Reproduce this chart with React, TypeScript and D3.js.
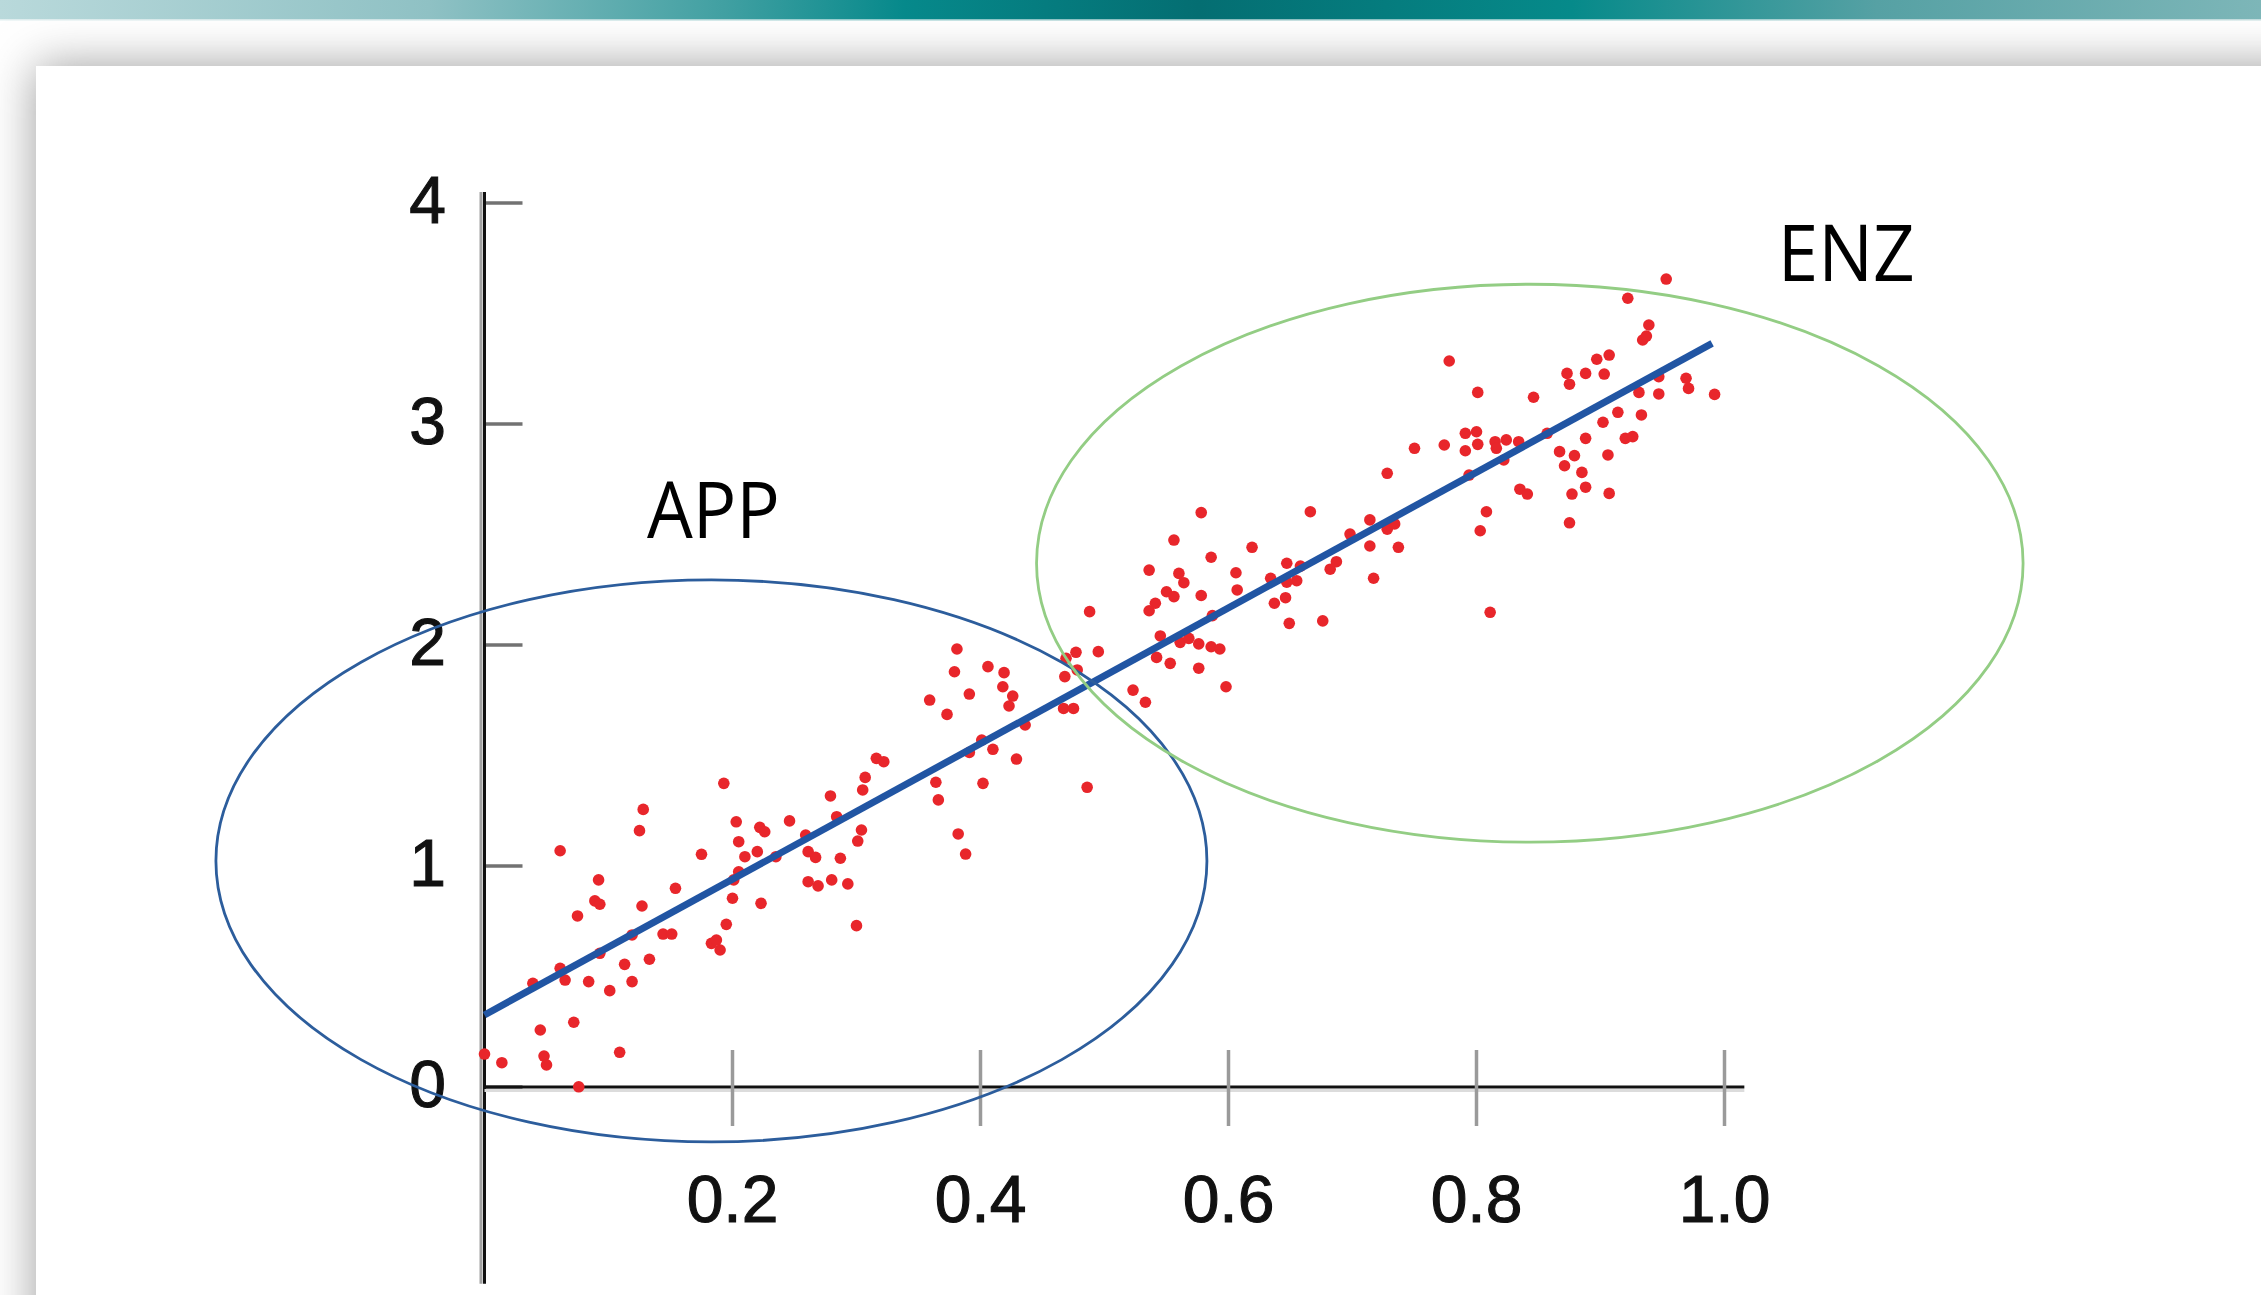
import React from "react";
import { scaleLinear, line } from "d3";

const width = 2261;
const height = 1295;

// scatter points (x, y)
const points: [number, number][] = [
  [0.0, 0.149], [0.014, 0.11], [0.045, 0.258], [0.048, 0.14], [0.05, 0.1], [0.072, 0.293],
  [0.076, 0.001], [0.109, 0.157], [0.039, 0.469], [0.061, 0.537], [0.065, 0.484], [0.084, 0.477],
  [0.093, 0.605], [0.101, 0.436], [0.113, 0.555], [0.119, 0.477], [0.133, 0.578], [0.119, 0.688],
  [0.061, 1.069], [0.075, 0.774], [0.089, 0.842], [0.093, 0.827], [0.092, 0.937], [0.127, 0.819],
  [0.125, 1.16], [0.128, 1.256], [0.144, 0.692], [0.151, 0.692], [0.154, 0.899], [0.175, 1.053],
  [0.183, 0.65], [0.187, 0.665], [0.19, 0.62], [0.195, 0.736], [0.2, 0.854], [0.201, 0.937],
  [0.205, 0.974], [0.193, 1.374], [0.203, 1.2], [0.205, 1.11], [0.21, 1.042], [0.22, 1.065],
  [0.222, 1.175], [0.226, 1.155], [0.223, 0.831], [0.235, 1.042], [0.246, 1.204], [0.259, 1.14],
  [0.261, 1.065], [0.267, 1.039], [0.261, 0.929], [0.269, 0.91], [0.28, 0.937], [0.293, 0.919],
  [0.279, 1.317], [0.284, 1.223], [0.287, 1.035], [0.3, 0.73], [0.301, 1.113], [0.304, 1.163],
  [0.305, 1.344], [0.307, 1.401], [0.316, 1.487], [0.322, 1.472], [0.359, 1.751], [0.373, 1.686],
  [0.379, 1.879], [0.381, 1.982], [0.391, 1.778], [0.364, 1.379], [0.366, 1.299], [0.382, 1.145],
  [0.388, 1.054], [0.391, 1.514], [0.402, 1.374], [0.401, 1.57], [0.406, 1.902],
  [0.419, 1.875], [0.418, 1.811], [0.426, 1.769], [0.423, 1.724], [0.436, 1.638], [0.41, 1.528],
  [0.429, 1.484], [0.486, 1.356], [0.467, 1.713], [0.475, 1.713], [0.468, 1.857], [0.469, 1.94],
  [0.477, 1.967], [0.478, 1.887], [0.495, 1.97], [0.488, 2.151], [0.523, 1.796], [0.533, 1.741],
  [0.536, 2.339], [0.556, 2.475], [0.578, 2.599], [0.586, 2.397], [0.619, 2.442], [0.666, 2.603],
  [0.728, 2.777], [0.75, 2.89], [0.56, 2.324], [0.564, 2.282], [0.55, 2.241], [0.556, 2.219],
  [0.541, 2.189], [0.536, 2.155], [0.578, 2.224], [0.606, 2.327], [0.607, 2.249], [0.587, 2.133],
  [0.545, 2.041], [0.542, 1.944], [0.553, 1.917], [0.561, 2.012], [0.568, 2.03], [0.576, 2.005],
  [0.586, 1.992], [0.593, 1.982], [0.576, 1.895], [0.598, 1.811], [0.634, 2.302], [0.647, 2.37],
  [0.658, 2.357], [0.655, 2.291], [0.647, 2.284], [0.637, 2.189], [0.646, 2.214], [0.649, 2.098],
  [0.676, 2.109], [0.682, 2.343], [0.687, 2.377], [0.698, 2.502], [0.714, 2.566], [0.714, 2.448],
  [0.717, 2.302], [0.728, 2.524], [0.734, 2.548], [0.737, 2.442],
  [0.778, 3.285], [0.774, 2.905], [0.801, 3.143], [0.791, 2.958], [0.8, 2.965], [0.791, 2.879],
  [0.801, 2.908], [0.815, 2.92], [0.816, 2.89], [0.824, 2.928], [0.834, 2.92], [0.822, 2.837],
  [0.794, 2.769], [0.808, 2.603], [0.803, 2.517], [0.811, 2.148], [0.835, 2.705], [0.841, 2.683],
  [0.846, 3.121], [0.857, 2.958], [0.873, 3.229], [0.875, 3.18], [0.888, 3.229], [0.897, 3.293],
  [0.907, 3.312], [0.903, 3.226], [0.867, 2.875], [0.879, 2.857], [0.871, 2.811], [0.888, 2.935],
  [0.885, 2.781], [0.888, 2.714], [0.877, 2.683], [0.906, 2.86], [0.907, 2.686], [0.875, 2.553],
  [0.902, 3.008], [0.914, 3.053], [0.92, 2.935], [0.926, 2.943], [0.933, 3.041], [0.931, 3.143],
  [0.947, 3.136], [0.947, 3.214], [0.934, 3.38], [0.937, 3.398], [0.939, 3.448], [0.922, 3.569],
  [0.953, 3.656], [0.969, 3.207], [0.971, 3.161], [0.992, 3.134],
];

const xTicks = [0.2, 0.4, 0.6, 0.8, 1.0];
const xTickLabels = ["0.2", "0.4", "0.6", "0.8", "1.0"];
const yTicks = [0, 1, 2, 3, 4];
const yTickLabels = ["0", "1", "2", "3", "4"];

// fitted line end points
const fitLine: [number, number][] = [[0, 0.326], [0.99, 3.365]];

// the two groups circled on the plot
const groupNames = ["APP", "ENZ"];
const groupCenters = [[0.183, 1.023], [0.843, 2.37]];
const groupRadii = [[0.3996, 1.2715], [0.3978, 1.2624]];
const groupLabelAt = [[0.131, 2.484], [1.043, 3.647]];
const groupLabelWidth = [133, 137];
const groupColors = ["#2c5d9c", "#93cd84"];

// bar gradient along the top of the slide
const barStops = [
  [0, "#b9d9db"], [0.19, "#8fc1c4"], [0.32, "#41a0a2"], [0.4, "#06898b"],
  [0.53, "#046e72"], [0.695, "#068a8a"], [0.83, "#56a1a4"], [1, "#7db6b8"],
];

export default function App() {
  const xScale = scaleLinear().domain([0, 1]).range([484.5, 1724.5]);
  const yScale = scaleLinear().domain([0, 4]).range([1087, 203]);

  const fitPath = line<[number, number]>()
    .x((d) => xScale(d[0]))
    .y((d) => yScale(d[1]))(fitLine);

  const axisX = xScale(0);
  const axisY = yScale(0);

  return (
    <div style={{ position: "fixed", left: 0, top: 0, width, height, overflow: "hidden", background: "#fff" }}>
      <svg width={width} height={height}>
        <defs>
          <linearGradient id="bar" x1="0" x2="1" y1="0" y2="0">
            {barStops.map((s, i) => (
              <stop key={i} offset={s[0] as number} stopColor={s[1] as string} />
            ))}
          </linearGradient>
          <filter id="shadow" x="-20%" y="-20%" width="140%" height="140%">
            <feGaussianBlur stdDeviation="24" />
          </filter>
        </defs>

        {/* slide card with its shadow */}
        <rect x={36} y={66} width={2320} height={1400} fill="#9c9c9c" filter="url(#shadow)" />
        <rect x={0} y={0} width={width} height={19} fill="url(#bar)" />
        <rect x={0} y={19} width={width} height={1.5} fill="url(#bar)" opacity={0.45} />
        <rect x={36} y={66} width={2320} height={1400} fill="#fff" />

        {/* y axis */}
        <line x1={axisX - 3.5} x2={axisX - 3.5} y1={yScale(4.05)} y2={yScale(-0.89)} stroke="#a2a2a2" strokeWidth={3} />
        <line x1={axisX} x2={axisX} y1={yScale(4.05)} y2={yScale(-0.89)} stroke="#111" strokeWidth={3} />
        {yTicks.map((t, i) => (
          <g key={i} transform={`translate(0,${yScale(t)})`}>
            <line x1={axisX + 1.5} x2={axisX + 38} stroke="#727272" strokeWidth={3.5} />
            <text
              x={446}
              y={20}
              textAnchor="end"
              fontFamily="'Liberation Sans', Arial, sans-serif"
              fontSize={66}
              fill="#111"
              stroke="#111"
              strokeWidth={1.1}
            >
              {yTickLabels[i]}
            </text>
          </g>
        ))}

        {/* x axis */}
        <line x1={axisX} x2={xScale(1.016)} y1={axisY + 3.5} y2={axisY + 3.5} stroke="#dcdcdc" strokeWidth={3} />
        <line x1={axisX} x2={xScale(1.016)} y1={axisY} y2={axisY} stroke="#111" strokeWidth={3} />
        {xTicks.map((t, i) => (
          <g key={i} transform={`translate(${xScale(t)},0)`}>
            <line y1={axisY - 37} y2={axisY + 39} stroke="#9a9a9a" strokeWidth={3.5} />
            <text
              y={1222}
              textAnchor="middle"
              fontFamily="'Liberation Sans', Arial, sans-serif"
              fontSize={66}
              fill="#111"
              stroke="#111"
              strokeWidth={1.1}
            >
              {xTickLabels[i]}
            </text>
          </g>
        ))}

        {/* points */}
        <g fill="#e8262b">
          {points.map((d, i) => (
            <circle key={i} cx={xScale(d[0])} cy={yScale(d[1])} r={5.8} />
          ))}
        </g>

        {/* fitted line */}
        <path d={fitPath || ""} fill="none" stroke="#2155a3" strokeWidth={7} />

        {/* group ellipses and names */}
        {groupNames.map((name, i) => (
          <g key={name}>
            <ellipse
              cx={xScale(groupCenters[i][0])}
              cy={yScale(groupCenters[i][1])}
              rx={xScale(groupRadii[i][0]) - xScale(0)}
              ry={yScale(0) - yScale(groupRadii[i][1])}
              fill="none"
              stroke={groupColors[i]}
              strokeWidth={2.8}
            />
            <text
              x={xScale(groupLabelAt[i][0])}
              y={yScale(groupLabelAt[i][1])}
              fontFamily="'Open Sans', sans-serif"
              fontSize={78}
              textLength={groupLabelWidth[i]}
              lengthAdjust="spacingAndGlyphs"
              fill="#000"
            >
              {name}
            </text>
          </g>
        ))}
      </svg>
    </div>
  );
}
